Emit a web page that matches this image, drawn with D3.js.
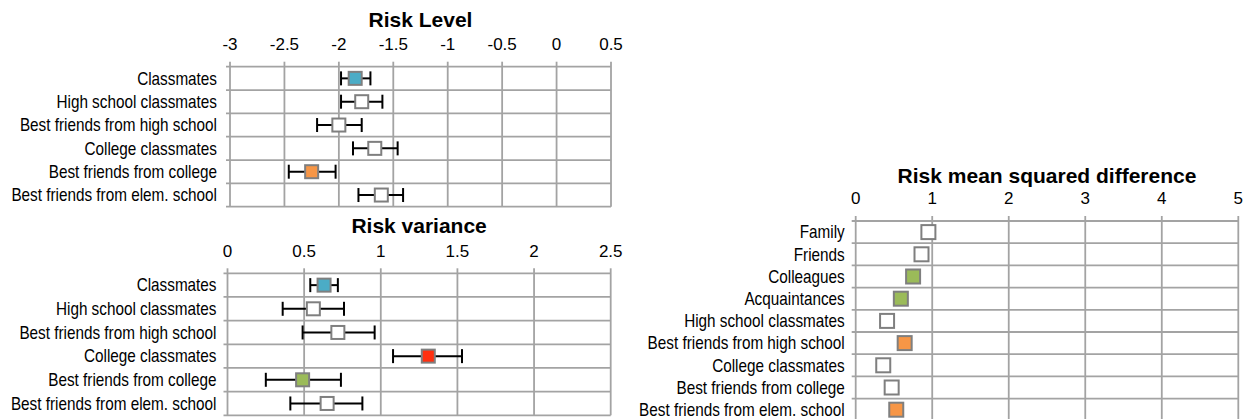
<!DOCTYPE html>
<html>
<head>
<meta charset="utf-8">
<script src="https://cdn.jsdelivr.net/npm/d3@7"></script>
<style>
  html, body { margin: 0; padding: 0; background: #fff; }
  svg { display: block; font-family: "Liberation Sans", Arial, Helvetica, sans-serif; }
</style>
</head>
<body>
<svg id="chart" width="1249" height="419"></svg>
<script>
// Categories
const schoolGroups = ["Classmates", "High school classmates", "Best friends from high school",
  "College classmates", "Best friends from college", "Best friends from elem. school"];
const tieGroups = ["Family", "Friends", "Colleagues", "Acquaintances", "High school classmates",
  "Best friends from high school", "College classmates", "Best friends from college",
  "Best friends from elem. school"];

// Risk level: mean with confidence interval
const levelMean = [-1.85, -1.79, -2.00, -1.67, -2.25, -1.61];
const levelLow  = [-1.98, -1.98, -2.20, -1.87, -2.46, -1.82];
const levelHigh = [-1.71, -1.60, -1.79, -1.46, -2.03, -1.41];
const levelFill = ["blue", "none", "none", "none", "orange", "none"];

// Risk variance: mean with confidence interval
const varMean = [0.63, 0.56, 0.72, 1.31, 0.49, 0.65];
const varLow  = [0.54, 0.36, 0.49, 1.08, 0.25, 0.41];
const varHigh = [0.72, 0.76, 0.96, 1.53, 0.74, 0.88];
const varFill = ["blue", "none", "none", "red", "green", "none"];

// Risk mean squared difference
const msdValue = [0.95, 0.86, 0.75, 0.59, 0.41, 0.64, 0.36, 0.47, 0.53];
const msdFill  = ["none", "none", "green", "green", "none", "orange", "none", "none", "orange"];

// Axis ticks
const levelTicks = [-3, -2.5, -2, -1.5, -1, -0.5, 0, 0.5];
const levelTickLabels = ["-3", "-2.5", "-2", "-1.5", "-1", "-0.5", "0", "0.5"];
const varTicks = [0, 0.5, 1, 1.5, 2, 2.5];
const varTickLabels = ["0", "0.5", "1", "1.5", "2", "2.5"];
const msdTicks = [0, 1, 2, 3, 4, 5];
const msdTickLabels = ["0", "1", "2", "3", "4", "5"];

const palette = { none: "#ffffff", blue: "#4bacc6", orange: "#f79646", green: "#9bbb59", red: "#ff2f0f" };
const gridColor = "#a3a3a3";

const svg = d3.select("#chart");

function panel(opts) {
  const g = svg.append("g");
  const x = d3.scaleLinear().domain([opts.ticks[0], opts.ticks[opts.ticks.length - 1]]).range([opts.x0, opts.x1]);
  const y = d3.scaleBand().domain(opts.cats).range([opts.y0, opts.y1]).padding(0);

  // title
  g.append("text")
    .attr("x", (opts.x0 + opts.x1) / 2)
    .attr("y", opts.y0 - opts.titleGap)
    .attr("text-anchor", "middle")
    .attr("font-size", 21)
    .attr("font-weight", "bold")
    .attr("fill", "#000")
    .text(opts.title);

  // tick labels
  g.selectAll(".tl").data(opts.ticks).join("text")
    .attr("x", d => x(d))
    .attr("y", opts.y0 - 16.7)
    .attr("text-anchor", "middle")
    .attr("font-size", 17)
    .attr("fill", "#000")
    .text((d, i) => opts.tickLabels[i]);

  // vertical grid lines with small ticks above the plot
  g.selectAll(".vg").data(opts.ticks).join("line")
    .attr("x1", d => x(d)).attr("x2", d => x(d))
    .attr("y1", opts.y0 - 5).attr("y2", opts.y1)
    .attr("stroke", gridColor).attr("stroke-width", 1.8);

  // horizontal lines at category boundaries, with small ticks left of the axis
  const bounds = opts.cats.map(c => y(c)).concat([opts.y1]);
  g.selectAll(".hg").data(bounds).join("line")
    .attr("x1", opts.x0 - 4).attr("x2", opts.x1)
    .attr("y1", d => d).attr("y2", d => d)
    .attr("stroke", gridColor).attr("stroke-width", 1.8);

  // category labels (narrow face)
  g.selectAll(".cl").data(opts.cats).join("text")
    .attr("transform", d => `translate(${opts.x0 - opts.labelGap},${y(d) + y.bandwidth() / 2 + 6.3}) scale(0.85,1)`)
    .attr("text-anchor", "end")
    .attr("font-size", 18)
    .attr("fill", "#000")
    .text(d => d);

  const cy = i => y(opts.cats[i]) + y.bandwidth() / 2;

  // error bars
  if (opts.low) {
    const eb = g.selectAll(".eb").data(opts.mean).join("g");
    eb.append("line")
      .attr("x1", (d, i) => x(opts.low[i])).attr("x2", (d, i) => x(opts.high[i]))
      .attr("y1", (d, i) => cy(i)).attr("y2", (d, i) => cy(i))
      .attr("stroke", "#000").attr("stroke-width", 2);
    eb.append("line")
      .attr("x1", (d, i) => x(opts.low[i])).attr("x2", (d, i) => x(opts.low[i]))
      .attr("y1", (d, i) => cy(i) - 7).attr("y2", (d, i) => cy(i) + 7)
      .attr("stroke", "#000").attr("stroke-width", 2);
    eb.append("line")
      .attr("x1", (d, i) => x(opts.high[i])).attr("x2", (d, i) => x(opts.high[i]))
      .attr("y1", (d, i) => cy(i) - 7).attr("y2", (d, i) => cy(i) + 7)
      .attr("stroke", "#000").attr("stroke-width", 2);
  }

  // square markers
  const s = opts.size;
  g.selectAll(".mk").data(opts.mean).join("rect")
    .attr("x", d => x(d) - s / 2)
    .attr("y", (d, i) => cy(i) - s / 2)
    .attr("width", s).attr("height", s)
    .attr("fill", (d, i) => palette[opts.fill[i]])
    .attr("stroke", "#7f7f7f").attr("stroke-width", 2);
}

panel({
  title: "Risk Level", cats: schoolGroups, ticks: levelTicks, tickLabels: levelTickLabels,
  mean: levelMean, low: levelLow, high: levelHigh, fill: levelFill,
  x0: 230, x1: 611, y0: 66.7, y1: 206.7, titleGap: 40, labelGap: 13, size: 13
});

panel({
  title: "Risk variance", cats: schoolGroups, ticks: varTicks, tickLabels: varTickLabels,
  mean: varMean, low: varLow, high: varHigh, fill: varFill,
  x0: 227.5, x1: 610.7, y0: 273.3, y1: 415.3, titleGap: 40, labelGap: 11, size: 13
});

panel({
  title: "Risk mean squared difference", cats: tieGroups, ticks: msdTicks, tickLabels: msdTickLabels,
  mean: msdValue, fill: msdFill,
  x0: 855.7, x1: 1238.3, y0: 221, y1: 420.8, titleGap: 37.7, labelGap: 11, size: 14
});
</script>
</body>
</html>
